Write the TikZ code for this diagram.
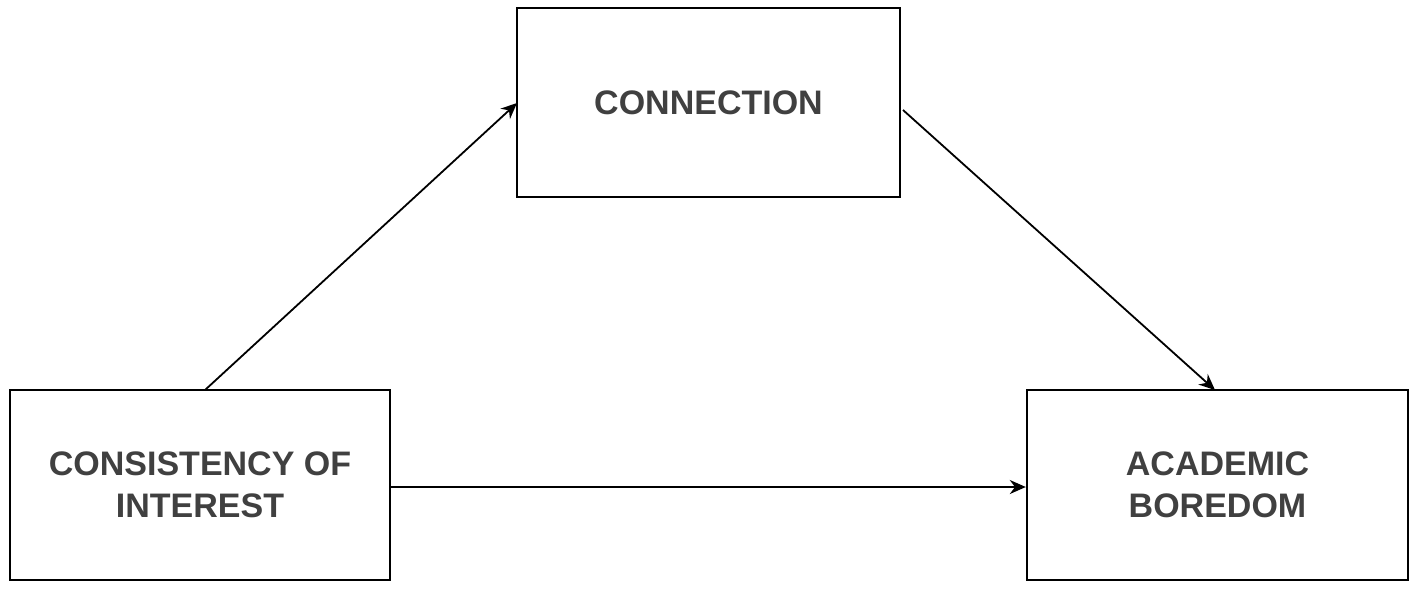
\documentclass[tikz,border=0pt]{standalone}
\usepackage{fontspec}
\setmainfont{Liberation Sans}
\usetikzlibrary{arrows.meta}
\begin{document}
\begin{tikzpicture}[x=0.5pt,y=-0.5pt,
  box/.style={draw,line width=1.2pt,fill=white,inner sep=0pt,font=\fontsize{17}{21}\selectfont\bfseries,text=black!75,align=center},
  arr/.style={line width=0.9pt,-{Stealth[length=8pt,width=7pt]}}]
\useasboundingbox (0,0) rectangle (1418,591);
\node[box,minimum width=383*0.5pt,minimum height=189*0.5pt] (c) at (708.5,102.5) {CONNECTION};
\node[box,minimum width=380*0.5pt,minimum height=190*0.5pt] (l) at (200,485) {CONSISTENCY OF\\INTEREST};
\node[box,minimum width=381*0.5pt,minimum height=190*0.5pt] (r) at (1217.5,485) {ACADEMIC\\BOREDOM};
\coordinate (ls) at (205,390);
\coordinate (ce) at (517,103);
\coordinate (cs) at (903,110);
\coordinate (re) at (1215,390);
\draw[arr] (ls) -- (ce);
\draw[arr] (cs) -- (re);
\draw[arr] (l.east |- 0,487) -- (r.west |- 0,487);
\end{tikzpicture}
\end{document}
